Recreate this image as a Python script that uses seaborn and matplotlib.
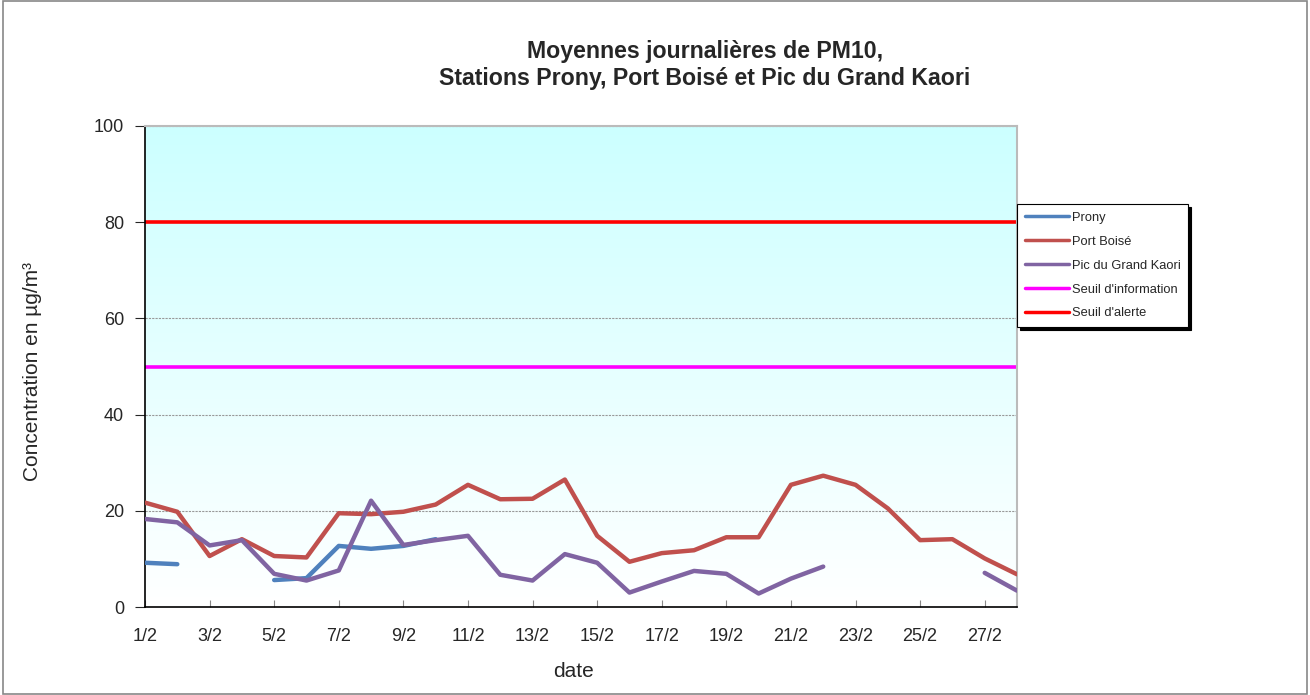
import numpy as np
import pandas as pd
import seaborn as sns
import matplotlib
matplotlib.use("Agg")
import matplotlib.pyplot as plt
from matplotlib.lines import Line2D

days = list(range(1, 29))
prony = [9.2, 8.9, None, None, 5.6, 6.0, 12.7, 12.1, 12.7, 14.1,
         None, None, None, None, None, None, None, None, None, None,
         None, None, None, None, None, None, None, None]
port_boise = [21.7, 19.8, 10.6, 14.1, 10.6, 10.3, 19.5, 19.3, 19.8, 21.3,
              25.4, 22.4, 22.5, 26.5, 14.8, 9.4, 11.2, 11.8, 14.5, 14.5,
              25.4, 27.3, 25.4, 20.5, 13.9, 14.1, 10.1, 6.8]
pic_kaori = [18.3, 17.6, 12.8, 13.9, 6.9, 5.5, 7.6, 22.1, 12.9, 13.9,
             14.8, 6.7, 5.5, 11.0, 9.2, 3.0, 5.3, 7.5, 6.9, 2.8,
             5.9, 8.4, None, None, None, None, 7.1, 3.4]
seuil_info = 50
seuil_alerte = 80
tick_days = list(range(1, 28, 2))
tick_labels = [f"{d}/2" for d in tick_days]

series = {"Prony": prony, "Port Boisé": port_boise, "Pic du Grand Kaori": pic_kaori}
colors = {"Prony": "#4F81BD", "Port Boisé": "#C0504D", "Pic du Grand Kaori": "#8064A2"}

# long format, one "segment" per unbroken run so gaps stay gaps
rows = []
for name, vals in series.items():
    seg = 0
    prev = False
    for d, v in zip(days, vals):
        if v is None:
            prev = False
            continue
        if not prev:
            seg += 1
        prev = True
        rows.append({"day": d, "value": v, "station": name, "segment": f"{name}-{seg}"})
df = pd.DataFrame(rows)

sns.set_style("white")
plt.rcParams["font.family"] = ["Liberation Sans", "DejaVu Sans"]

fig = plt.figure(figsize=(13.1, 6.95), dpi=100)
ax = fig.add_axes([145 / 1310, 1 - 607 / 695, (1017 - 145) / 1310, (607 - 126) / 695])

# gradient background
grad = np.linspace(1, 0, 256).reshape(-1, 1)
top = np.array([0.80, 1.0, 1.0])
bottom = np.array([1.0, 1.0, 1.0])
img = grad[..., None] * top + (1 - grad[..., None]) * bottom
ax.imshow(img, extent=[1, 28, 0, 100], aspect="auto", origin="upper", zorder=0)

for y in [20, 40, 60, 80, 100]:
    ax.axhline(y, color="#999999", lw=0.8, ls=(0, (2, 1)), zorder=1)

sns.lineplot(data=df, x="day", y="value", hue="station", units="segment",
             estimator=None, palette=colors, linewidth=3.2, ax=ax, legend=False,
             zorder=3)
ax.axhline(seuil_info, color="#FF00FF", lw=2.6, zorder=2)
ax.axhline(seuil_alerte, color="#FF0000", lw=2.6, zorder=2)

ax.set_xlim(1, 28)
ax.set_ylim(0, 100)
ax.set_yticks([0, 20, 40, 60, 80, 100])
ax.set_xticks(tick_days)
ax.set_xticklabels(tick_labels)
ax.tick_params(axis="y", direction="out", length=7, labelsize=13, pad=8, left=True)
ax.tick_params(axis="x", direction="in", length=5, labelsize=13, pad=15, bottom=True, color="#888888")
ax.set_xlabel("date", fontsize=15)
ax.set_ylabel("Concentration en µg/m³", fontsize=15)
ax.xaxis.set_label_coords((573 - 145) / 872, -(662 - 607) / 481)
ax.yaxis.set_label_coords(-(145 - 42) / 872, 0.49)
for s in ["left", "bottom"]:
    ax.spines[s].set_color("black")
    ax.spines[s].set_linewidth(1.2)
for s in ["top", "right"]:
    ax.spines[s].set_color("#bbbbbb")
    ax.spines[s].set_linewidth(1.5)

fig.text(705 / 1310, 1 - 65 / 695, "Moyennes journalières de PM10,\nStations Prony, Port Boisé et Pic du Grand Kaori",
         ha="center", va="center", fontsize=16.7, fontweight="bold", linespacing=1.2)

handles = [Line2D([], [], color=colors["Prony"], lw=2.5),
           Line2D([], [], color=colors["Port Boisé"], lw=2.5),
           Line2D([], [], color=colors["Pic du Grand Kaori"], lw=2.5),
           Line2D([], [], color="#FF00FF", lw=2.5),
           Line2D([], [], color="#FF0000", lw=2.5)]
labels = ["Prony", "Port Boisé", "Pic du Grand Kaori", "Seuil d'information", "Seuil d'alerte"]
leg = fig.legend(handles, labels, loc="upper left", bbox_to_anchor=(1017 / 1310, 1 - 204 / 695),
                 fontsize=9.3, frameon=True, fancybox=False, shadow={"color": "black", "alpha": 1},
                 handlelength=3.4, labelspacing=0.92, borderpad=0.6, handletextpad=0.25,
                 borderaxespad=0)
leg.get_frame().set_edgecolor("black")
leg.get_frame().set_linewidth(0.8)

fig.patches.append(plt.Rectangle((0.002, 0.002), 0.996, 0.996, transform=fig.transFigure,
                                 fill=False, edgecolor="#888888", lw=1.2))

fig.savefig("out.png", dpi=100, facecolor="white")
